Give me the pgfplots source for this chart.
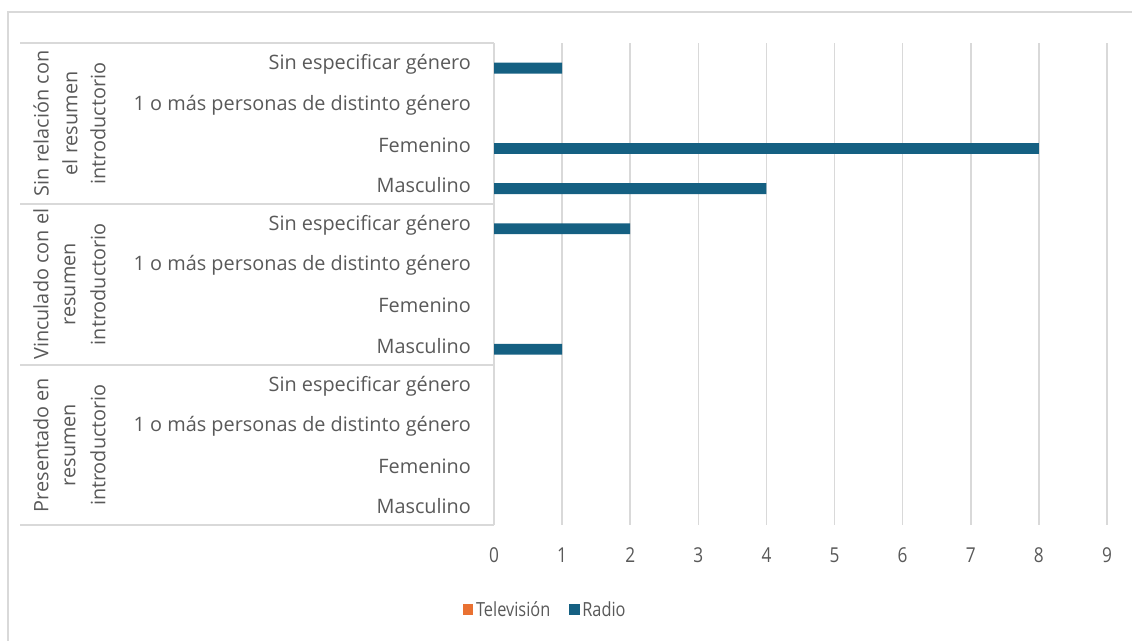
\documentclass[border=0pt]{standalone}
\usepackage{pgfplots}
\pgfplotsset{compat=1.18}
\usepackage{fontspec}
\setmainfont{Open Sans}
\newfontfamily\condfont[FakeStretch=0.84]{Open Sans}
\definecolor{radio}{HTML}{156082}
\definecolor{tele}{HTML}{E97132}
\definecolor{txt}{HTML}{595959}
\definecolor{gridc}{HTML}{D9D9D9}
\newcommand{\lblfont}{\fontsize{14.9}{17}\selectfont}
\newcommand{\tckfont}{\condfont\fontsize{15.4}{17}\selectfont}
\newcommand{\legfont}{\condfont\fontsize{14.6}{17}\selectfont}
\begin{document}
\begin{tikzpicture}[x=0.75pt,y=0.75pt]
\path[use as bounding box] (0,0) rectangle (1132,641);
\draw[gridc, line width=1.4pt] (8,0) -- (8,629) -- (1132,629);
% table lines
\foreach \yy in {598,437,276,116} {\draw[gridc, line width=1.3pt] (20,\yy) -- (494,\yy);}
\draw[gridc, line width=1.3pt] (494,116) -- (494,598);
% group labels
\foreach \cy/\la/\lb/\lc in {517.6/Sin relación con/el resumen/introductorio,
                               356.8/Vinculado con el/resumen/introductorio,
                               196/Presentado en/resumen/introductorio} {
  \node[rotate=90, font=\lblfont, text=txt] at (41,\cy) {\la};
  \node[rotate=90, font=\lblfont, text=txt] at (70,\cy) {\lb};
  \node[rotate=90, font=\lblfont, text=txt] at (98,\cy) {\lc};
}
\begin{axis}[
  at={(370.5pt,87pt)}, anchor=south west,
  width=459.75pt, height=361.5pt, scale only axis,
  xmin=0, xmax=9, ymin=-0.5, ymax=11.5,
  xtick={0,1,...,9}, ytick={0,1,...,11},
  yticklabels={Masculino,Femenino,1 o más personas de distinto género,Sin especificar género,
               Masculino,Femenino,1 o más personas de distinto género,Sin especificar género,
               Masculino,Femenino,1 o más personas de distinto género,Sin especificar género},
  xmajorgrids, grid style={gridc, line width=1.1pt},
  axis line style={draw=none}, tick style={draw=none},
  yticklabel style={font=\lblfont, text=txt, xshift=-9.5pt, yshift=-1.2pt},
  xticklabel style={font=\tckfont, text=txt, yshift=-13.5pt},
  /pgf/number format/assume math mode=true,
  xbar, bar width=0.27,
  legend style={draw=none, fill=none, font=\legfont, text=txt,
    at={(0.084,-0.176)}, anchor=center, legend columns=2,
    /tikz/every even column/.append style={column sep=12pt}},
]
\addplot[fill=none, draw=none, bar shift=0.135,
  legend image code/.code={\fill[tele] (0pt,-4pt) rectangle (8pt,4.2pt);}]
  coordinates {(0,0) (0,1) (0,2) (0,3) (0,4) (0,5) (0,6) (0,7) (0,8) (0,9) (0,10) (0,11)};
\addlegendentry{Televisión}
\addplot[fill=radio, draw=none, bar shift=-0.125,
  x filter/.expression={x==0 ? nan : x},
  legend image code/.code={\fill[radio] (0pt,-4pt) rectangle (8pt,4.2pt);}]
  coordinates {(0,0) (0,1) (0,2) (0,3) (1,4) (0,5) (0,6) (2,7) (4,8) (8,9) (0,10) (1,11)};
\addlegendentry{Radio}
\end{axis}
\end{tikzpicture}
\end{document}
